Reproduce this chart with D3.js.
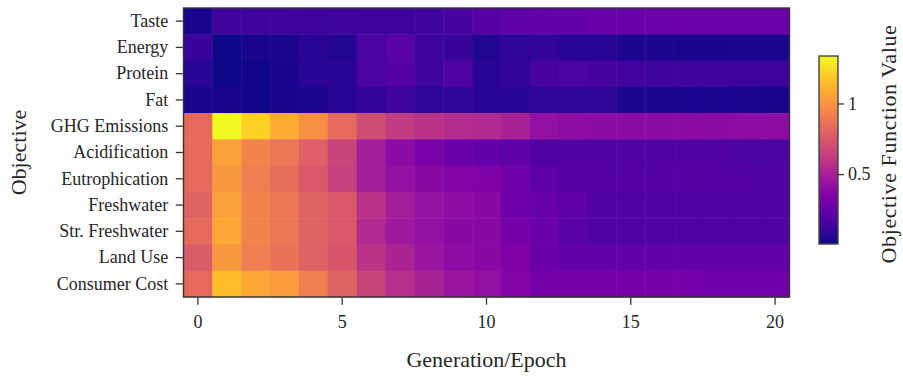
<!DOCTYPE html>
<html>
<head>
<meta charset="utf-8">
<script src="https://cdn.jsdelivr.net/npm/d3@7"></script>
<style>
  body { margin: 0; background: #fff; }
  svg text { font-family: "Liberation Serif", "Times New Roman", serif; fill: #262626; }
  .axis path { display: none; }
  .axis line { stroke: #333; stroke-width: 1.3; }
</style>
</head>
<body>
<svg id="chart" width="903" height="379"></svg>
<script>
// objectives, top to bottom
const objectives = ['Taste', 'Energy', 'Protein', 'Fat', 'GHG Emissions', 'Acidification',
  'Eutrophication', 'Freshwater', 'Str. Freshwater', 'Land Use', 'Consumer Cost'];

// generations 0..20
const generations = d3.range(0, 21);
const xTicks = [0, 5, 10, 15, 20];
const cbTicks = [0.5, 1];

// objective function values, one row per objective
const taste = [0.03, 0.13, 0.13, 0.13, 0.12, 0.13, 0.12, 0.12, 0.13, 0.16, 0.20, 0.23, 0.24, 0.25, 0.27, 0.27, 0.28, 0.28, 0.28, 0.28, 0.28];
const energy = [0.11, 0.005, 0.03, 0.04, 0.07, 0.05, 0.17, 0.21, 0.12, 0.11, 0.05, 0.08, 0.09, 0.07, 0.07, 0.04, 0.04, 0.03, 0.03, 0.04, 0.04];
const protein = [0.07, 0.01, 0.02, 0.03, 0.07, 0.07, 0.17, 0.20, 0.13, 0.19, 0.07, 0.09, 0.16, 0.17, 0.16, 0.15, 0.13, 0.13, 0.13, 0.12, 0.12];
const fat = [0.03, 0.03, 0.02, 0.03, 0.04, 0.07, 0.09, 0.13, 0.08, 0.08, 0.07, 0.07, 0.08, 0.08, 0.08, 0.04, 0.04, 0.04, 0.04, 0.04, 0.03];
const ghg = [0.83, 1.336, 1.21, 1.09, 0.98, 0.83, 0.70, 0.62, 0.58, 0.55, 0.54, 0.50, 0.42, 0.40, 0.39, 0.39, 0.39, 0.39, 0.39, 0.40, 0.40];
const acidification = [0.83, 1.05, 0.94, 0.88, 0.78, 0.66, 0.48, 0.39, 0.32, 0.27, 0.25, 0.23, 0.19, 0.19, 0.19, 0.19, 0.19, 0.19, 0.19, 0.17, 0.17];
const eutrophication = [0.83, 1.01, 0.91, 0.84, 0.75, 0.64, 0.48, 0.42, 0.38, 0.35, 0.34, 0.29, 0.23, 0.20, 0.20, 0.20, 0.20, 0.20, 0.20, 0.20, 0.19];
const freshwater = [0.80, 1.05, 0.94, 0.88, 0.80, 0.75, 0.58, 0.48, 0.43, 0.40, 0.38, 0.29, 0.27, 0.23, 0.19, 0.19, 0.19, 0.19, 0.19, 0.19, 0.19];
const strFreshwater = [0.83, 1.07, 0.94, 0.88, 0.80, 0.75, 0.54, 0.46, 0.42, 0.38, 0.38, 0.31, 0.27, 0.21, 0.19, 0.19, 0.19, 0.19, 0.19, 0.19, 0.19];
const landUse = [0.76, 1.01, 0.91, 0.86, 0.79, 0.74, 0.58, 0.51, 0.44, 0.40, 0.38, 0.34, 0.27, 0.25, 0.25, 0.25, 0.25, 0.25, 0.25, 0.25, 0.25];
const consumerCost = [0.83, 1.15, 1.07, 1.03, 0.91, 0.80, 0.66, 0.56, 0.50, 0.44, 0.42, 0.36, 0.31, 0.31, 0.31, 0.31, 0.31, 0.31, 0.29, 0.29, 0.29];

const rows = [taste, energy, protein, fat, ghg, acidification, eutrophication,
  freshwater, strFreshwater, landUse, consumerCost];

const cells = [];
rows.forEach((vals, r) => vals.forEach((v, c) => {
  cells.push({ obj: objectives[r], gen: generations[c], value: v });
}));

const svg = d3.select('#chart');
const plotLeft = 183.5, plotRight = 789.5, plotTop = 8, plotBottom = 297;

const x = d3.scaleBand().domain(generations).range([plotLeft, plotRight]);
const y = d3.scaleBand().domain(objectives).range([plotTop, plotBottom]);

const extent = d3.extent(cells, (d) => d.value);
const color = d3.scaleSequential(d3.interpolatePlasma).domain(extent);

svg.append('g')
  .selectAll('rect')
  .data(cells)
  .enter()
  .append('rect')
  .attr('x', (d) => x(d.gen))
  .attr('y', (d) => y(d.obj))
  .attr('width', x.bandwidth() + 0.5)
  .attr('height', y.bandwidth() + 0.5)
  .attr('fill', (d) => color(d.value));

svg.append('rect')
  .attr('x', plotLeft).attr('y', plotTop)
  .attr('width', plotRight - plotLeft).attr('height', plotBottom - plotTop)
  .attr('fill', 'none')
  .attr('stroke', '#333')
  .attr('stroke-width', 1.4);

// axes
const xAxis = svg.append('g')
  .attr('class', 'axis')
  .attr('transform', `translate(0,${plotBottom + 0.7})`)
  .call(d3.axisBottom(x).tickValues(xTicks).tickSize(7).tickPadding(11));
xAxis.selectAll('text').attr('font-size', 18).style('font-family', '"Liberation Serif", serif');

const yAxis = svg.append('g')
  .attr('class', 'axis')
  .attr('transform', `translate(${plotLeft - 0.7},0)`)
  .call(d3.axisLeft(y).tickSize(7).tickPadding(7.5));
yAxis.selectAll('text').attr('font-size', 18).style('font-family', '"Liberation Serif", serif');

svg.append('text')
  .attr('x', (plotLeft + plotRight) / 2)
  .attr('y', 367)
  .attr('text-anchor', 'middle')
  .attr('font-size', 22)
  .text('Generation/Epoch');

svg.append('text')
  .attr('transform', `translate(26,${(plotTop + plotBottom) / 2}) rotate(-90)`)
  .attr('text-anchor', 'middle')
  .attr('font-size', 22)
  .text('Objective');

// colorbar
const cbX = 819, cbW = 19, cbTop = 56, cbBottom = 244;
const cb = d3.scaleLinear().domain(extent).range([cbBottom, cbTop]);

const grad = svg.append('defs').append('linearGradient')
  .attr('id', 'cbgrad')
  .attr('x1', 0).attr('y1', 1).attr('x2', 0).attr('y2', 0);
d3.range(0, 1.0001, 0.05).forEach((t) => {
  grad.append('stop').attr('offset', t).attr('stop-color', d3.interpolatePlasma(t));
});

svg.append('rect')
  .attr('x', cbX).attr('y', cbTop)
  .attr('width', cbW).attr('height', cbBottom - cbTop)
  .attr('fill', 'url(#cbgrad)')
  .attr('stroke', '#444')
  .attr('stroke-width', 1.4);

const cbAxis = svg.append('g')
  .attr('class', 'axis')
  .attr('transform', `translate(${cbX + cbW},0)`)
  .call(d3.axisRight(cb).tickValues(cbTicks).tickFormat(d3.format('')).tickSize(6).tickPadding(4));
cbAxis.selectAll('text').attr('font-size', 18).style('font-family', '"Liberation Serif", serif');

svg.append('text')
  .attr('transform', `translate(896,144) rotate(-90)`)
  .attr('text-anchor', 'middle')
  .attr('font-size', 22)
  .attr('letter-spacing', 0.6)
  .text('Objective Function Value');
</script>
</body>
</html>
